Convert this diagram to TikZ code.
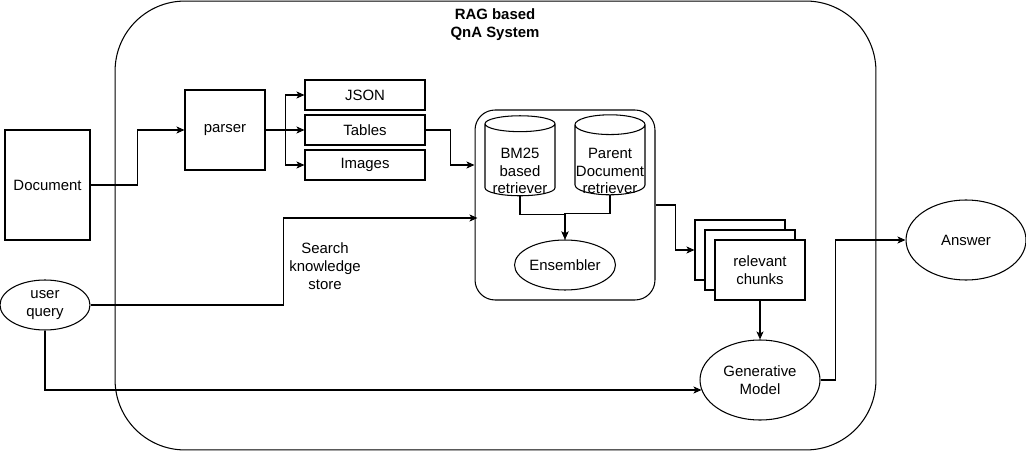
\documentclass[tikz,border=0pt]{standalone}
\usepackage{fontspec}
\setmainfont{Liberation Sans}
\usetikzlibrary{arrows.meta, positioning, shapes.geometric, calc}

\newcommand{\lowtext}[1]{\raisebox{-0.32cm}[0pt][0pt]{\begin{tabular}{@{}c@{}}#1\end{tabular}}}

\begin{document}
\begin{tikzpicture}[
    x=0.02cm, y=-0.02cm,
    every node/.style={font=\fontsize{8.5pt}{10.2pt}\selectfont},
    box/.style={rectangle, draw, align=center, inner sep=0pt, line width=0.6pt},
    blob/.style={ellipse, draw, align=center, inner sep=0pt, line width=0.6pt},
    store/.style={cylinder, shape border rotate=90, shape aspect=0.29, draw, align=center,
                  inner sep=0pt, minimum width=1.4cm, minimum height=1.6cm, line width=0.6pt},
    arrow/.style={-{Stealth[length=1.6mm, width=1.4mm, inset=0.4mm]}, line width=0.6pt}
  ]
    \useasboundingbox (0,0) rectangle (1026,452);

    % System frame
    \node[box, rounded corners=1.4cm, minimum width=15.22cm, minimum height=8.98cm] (sys) at (495.5,225.5) {};
    \node[align=center, font=\fontsize{8.5pt}{10.2pt}\selectfont\bfseries] (title) at (495,25) {RAG based\\QnA System};

    % Ingestion
    \node[box, minimum width=1.7cm, minimum height=2.2cm] (doc) at (47.5,185) {Document};
    \node[box, minimum width=1.6cm, minimum height=1.6cm] (parser) at (225,130) {parser};
    \node[box, minimum width=2.4cm, minimum height=0.6cm] (json) at (365,95) {JSON};
    \node[box, minimum width=2.4cm, minimum height=0.6cm] (tables) at (365,130) {Tables};
    \node[box, minimum width=2.4cm, minimum height=0.6cm] (images) at (365,165) {Images};

    % Retrieval
    \node[box, rounded corners=0.4cm, minimum width=3.6cm, minimum height=3.8cm] (inner) at (565,205) {};
    \node[store] (bm) at (520,160) {\lowtext{BM25\\based\\retriever}};
    \node[store] (pd) at (610,160) {\lowtext{Parent\\Document\\retriever}};
    \node[blob, minimum width=2cm, minimum height=1cm] (ens) at (565,265) {Ensembler};

    % Query side
    \node[blob, minimum width=1.8cm, minimum height=1cm] (query) at (45,305) {user\\query};
    \node[align=center] (search) at (325,266) {Search\\knowledge\\store};

    % Chunks and generation
    \node[box, fill=white, minimum width=1.8cm, minimum height=1.2cm] (back) at (740,250) {};
    \node[box, fill=white, minimum width=1.8cm, minimum height=1.2cm] (mid) at (750,260) {};
    \node[box, fill=white, minimum width=1.8cm, minimum height=1.2cm] (front) at (760,270) {relevant\\chunks};
    \node[blob, minimum width=2.4cm, minimum height=1.6cm] (gen) at (760,380) {Generative\\Model};
    \node[blob, minimum width=2.4cm, minimum height=1.6cm] (ans) at (966,240) {Answer};

    % Arrows
    \draw[arrow] (doc.east) -- ++(47,0) |- (parser.west);
    \draw[arrow] (parser.east) -- ++(20,0) |- (json.west);
    \draw[arrow] (parser.east) -- (tables.west);
    \draw[arrow] (parser.east) -- ++(20,0) |- (images.west);
    \draw[arrow] (tables.east) -- ++(25,0) |- (inner.west |- images.east);
    \draw[arrow] (query.east) -- ++(193,0) |- ($(inner.west)+(3,13)$);
    \draw[arrow] (bm.south) -- ++(0,18) -| (ens.north);
    \draw[arrow] (pd.south) -- ++(0,18) -| (ens.north);
    \draw[arrow] (inner.east) -- ++(20,0) |- (back.west);
    \draw[arrow] (front.south) -- (gen.north);
    \draw[arrow] (query.south) |- ($(gen.west)+(2,10)$);
    \draw[arrow] (gen.east) -- ++(15,0) |- (ans.west);
\end{tikzpicture}
\end{document}
